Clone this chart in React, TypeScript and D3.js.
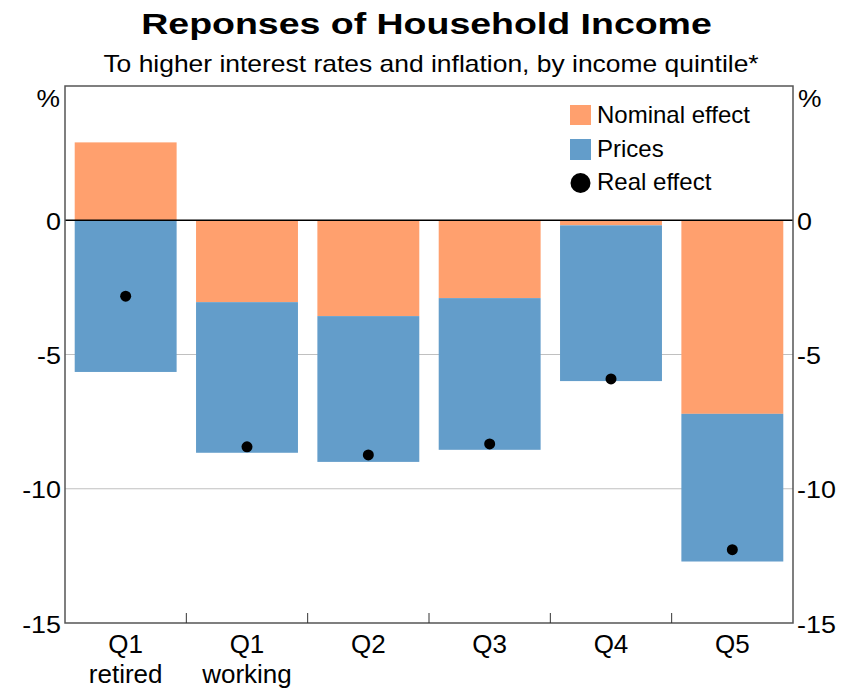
import React from "react";
import * as d3 from "d3";

const categories = ["Q1|retired", "Q1|working", "Q2", "Q3", "Q4", "Q5"];
const nominal = [2.9, -3.05, -3.57, -2.9, -0.19, -7.21];
const prices = [-5.65, -5.61, -5.43, -5.65, -5.8, -5.5];
const real = [-2.83, -8.44, -8.74, -8.33, -5.91, -12.27];
const yTicks = [-15, -10, -5, 0];
const gridTicks = [-10, -5];

const W = 844, H = 693;
const M = { left: 65, right: 793, top: 86, bottom: 623 };
const ORANGE = "#FFA06E";
const BLUE = "#639DCA";
const FONT = "Arial, 'Liberation Sans', sans-serif";

function T({ x, y, sx = 1, size, anchor = "start", weight = "normal", children }: any) {
  return (
    <text transform={`translate(${x},${y}) scale(${sx},1)`} textAnchor={anchor} fontSize={size} fontWeight={weight}>
      {children}
    </text>
  );
}

export default function App() {
  const x = d3.scaleBand().domain(categories).range([M.left, M.right]).paddingInner(0.16).paddingOuter(0.08);
  const y = d3.scaleLinear().domain([-15, 5]).range([M.bottom, M.top]);
  const bw = x.bandwidth();
  const boundaries = d3.range(1, categories.length).map((i) => M.left + ((M.right - M.left) / categories.length) * i);

  const bars: any[] = [];
  categories.forEach((c, i) => {
    const n = nominal[i];
    const p = prices[i];
    const x0 = x(c)!;
    if (n >= 0) {
      bars.push({ key: c + "n", x: x0, y0: 0, y1: n, fill: ORANGE });
      bars.push({ key: c + "p", x: x0, y0: 0, y1: p, fill: BLUE });
    } else {
      bars.push({ key: c + "n", x: x0, y0: 0, y1: n, fill: ORANGE });
      bars.push({ key: c + "p", x: x0, y0: n, y1: n + p, fill: BLUE });
    }
  });

  return (
    <svg width={W} height={H} style={{ position: "absolute", left: 0, top: 0, fontFamily: FONT }}>
      <rect x={0} y={0} width={W} height={H} fill="white" />
      <T x={426.5} y={34} size={30} weight="bold" sx={1.25} anchor="middle">Reponses of Household Income</T>
      <T x={431} y={72} size={23} sx={1.15} anchor="middle">To higher interest rates and inflation, by income quintile*</T>

      {gridTicks.map((t) => (
        <line key={t} x1={M.left} x2={M.right} y1={y(t)} y2={y(t)} stroke="#C0C0C0" strokeWidth={1} />
      ))}

      {bars.map((b) => (
        <rect key={b.key} x={b.x} width={bw} y={Math.min(y(b.y0), y(b.y1))} height={Math.abs(y(b.y0) - y(b.y1))} fill={b.fill} />
      ))}

      <line x1={M.left} x2={M.right} y1={y(0)} y2={y(0)} stroke="black" strokeWidth={1.5} />

      {real.map((r, i) => (
        <circle key={i} cx={x(categories[i])! + bw / 2} cy={y(r)} r={5.5} fill="black" />
      ))}

      {/* legend */}
      <rect x={570} y={105} width={21} height={20} fill={ORANGE} />
      <T x={597} y={123} size={24}>Nominal effect</T>
      <rect x={570} y={139} width={21} height={21} fill={BLUE} />
      <T x={597} y={157} size={24}>Prices</T>
      <circle cx={580.5} cy={183} r={10} fill="black" />
      <T x={597} y={190} size={24}>Real effect</T>

      {/* frame */}
      <rect x={M.left} y={M.top} width={M.right - M.left} height={M.bottom - M.top} fill="none" stroke="#555" strokeWidth={1.5} />
      {boundaries.map((b, i) => (
        <line key={i} x1={b} x2={b} y1={M.bottom} y2={M.bottom - 10} stroke="#333" strokeWidth={1} />
      ))}

      {yTicks.map((t) => (
        <g key={t}>
          <T x={M.left - 4} y={y(t) + 9.5} size={24} sx={1.12} anchor="end">{t}</T>
          <T x={M.right + 4} y={y(t) + 9.5} size={24} sx={1.12} anchor="start">{t}</T>
        </g>
      ))}
      <T x={M.left - 5} y={107} size={24} sx={1.1} anchor="end">%</T>
      <T x={M.right + 5} y={107} size={24} sx={1.1} anchor="start">%</T>

      {categories.map((c) => {
        const lines = c.split("|");
        const cx = x(c)! + bw / 2;
        return (
          <g key={c}>
            {lines.map((l, j) => (
              <T key={j} x={cx} y={653 + j * 30} size={25} sx={1.04} anchor="middle">{l}</T>
            ))}
          </g>
        );
      })}
    </svg>
  );
}
